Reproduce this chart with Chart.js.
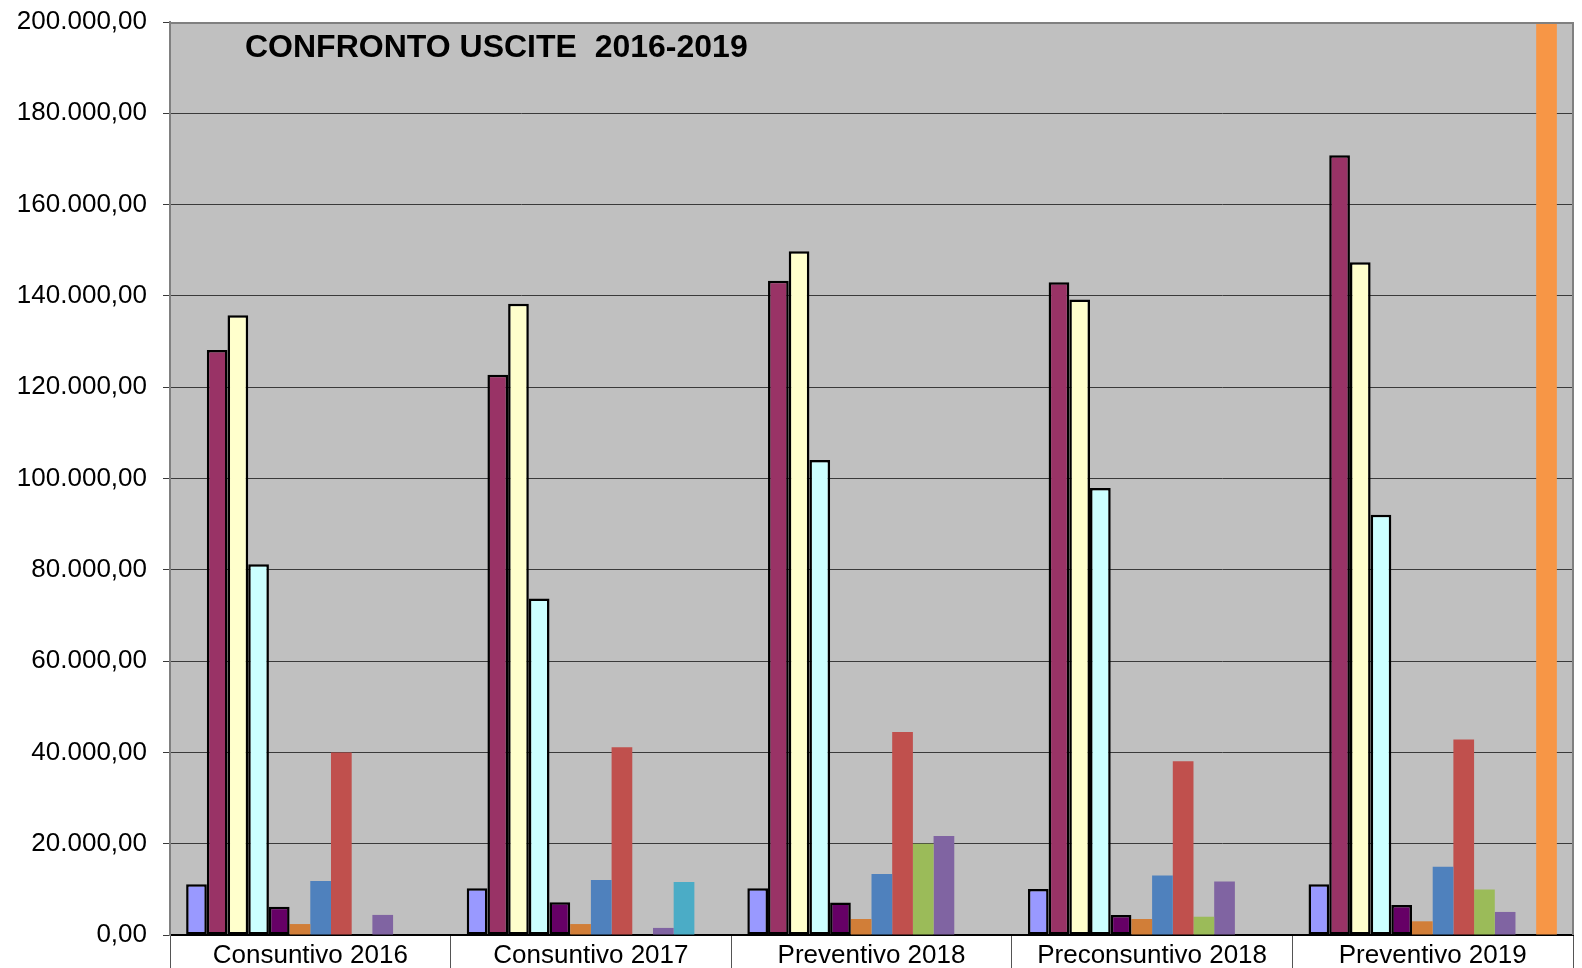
<!DOCTYPE html>
<html>
<head>
<meta charset="utf-8">
<script src="https://cdn.jsdelivr.net/npm/chart.js@4/dist/chart.umd.min.js"></script>
<style>
  html, body { margin: 0; padding: 0; background: #fff; }
  #wrap { width: 1582px; height: 968px; }
</style>
</head>
<body>
<div id="wrap"><canvas id="myChart" width="1582" height="968"></canvas></div>
<script>
// categories
var categories = ['Consuntivo 2016', 'Consuntivo 2017', 'Preventivo 2018', 'Preconsuntivo 2018', 'Preventivo 2019'];

// y axis tick labels (bottom to top)
var yTickLabels = ['0,00', '20.000,00', '40.000,00', '60.000,00', '80.000,00', '100.000,00',
  '120.000,00', '140.000,00', '160.000,00', '180.000,00', '200.000,00'];

// series values, one array per series
var serie1  = [11100, 10230, 10230, 10080, 11100];
var serie2  = [128150, 122700, 143300, 143000, 170800];
var serie3  = [135750, 138300, 149800, 139200, 147350];
var serie4  = [81200, 73700, 104050, 97900, 92050];
var serie5  = [6200, 7150, 7100, 4400, 6550];
var serie6  = [2400, 2400, 3500, 3500, 3000];
var serie7  = [11850, 12050, 13350, 13050, 14950];
var serie8  = [40000, 41150, 44450, 38050, 42800];
var serie9  = [0, 0, 20000, 4000, 9950];
var serie10 = [4400, 1550, 21700, 11700, 5050];
var serie11 = [0, 11600, 0, 0, 0];
var serie12 = [0, 0, 0, 0, 230000];

var allSeries = [serie1, serie2, serie3, serie4, serie5, serie6, serie7, serie8, serie9, serie10, serie11, serie12];
var colors = ['#9999FF', '#993366', '#FFFFCC', '#CCFFFF', '#660066', '#D17E38',
  '#4F81BD', '#C0504D', '#9BBB59', '#8064A2', '#4BACC6', '#F79646'];

var datasets = allSeries.map(function (vals, i) {
  var outlined = i < 5;
  return {
    label: 'Serie ' + (i + 1),
    data: vals,
    backgroundColor: colors[i],
    borderColor: outlined ? '#000' : colors[i],
    borderWidth: outlined ? 2.5 : 0,
    borderSkipped: false
  };
});

// grey plot background + title inside the plot
var plotDecor = {
  id: 'plotDecor',
  beforeDraw: function (chart) {
    var a = chart.chartArea, c = chart.ctx;
    c.save();
    c.fillStyle = '#C0C0C0';
    c.fillRect(a.left, a.top, a.right - a.left, a.bottom - a.top);
    c.restore();
  },
  beforeDatasetsDraw: function (chart) {
    var a = chart.chartArea, c = chart.ctx;
    c.save();
    c.fillStyle = '#000';
    c.font = 'bold 32px "Liberation Sans", Arial, sans-serif';
    c.textBaseline = 'alphabetic';
    c.fillText('CONFRONTO USCITE  2016-2019', 245, a.top + 35);
    c.restore();
  },
  afterDraw: function (chart) {
    var a = chart.chartArea, c = chart.ctx;
    c.save();
    c.strokeStyle = '#808080';
    c.lineWidth = 2;
    c.beginPath();
    c.moveTo(a.left, a.top + 1);
    c.lineTo(a.right, a.top + 1);
    c.lineTo(a.right, a.bottom);
    c.stroke();
    c.restore();
  }
};

var ctx = document.getElementById('myChart');
var chart = new Chart(ctx, {
  type: 'bar',
  data: { labels: categories, datasets: datasets },
  options: {
    responsive: false,
    animation: false,
    layout: { padding: { top: 22, right: 9, left: 0, bottom: 0 } },
    datasets: { bar: { categoryPercentage: 0.885, barPercentage: 1 } },
    plugins: { legend: { display: false }, tooltip: { enabled: false } },
    scales: {
      x: {
        grid: { offset: true, drawOnChartArea: false, tickLength: 33, color: '#555', lineWidth: 1 },
        border: { color: '#000', width: 2 },
        ticks: { color: '#000', padding: -28, font: { family: '"Liberation Sans", Arial, sans-serif', size: 26 } },
        afterFit: function (s) { s.height = 33; s.paddingLeft = 0; s.paddingRight = 0; }
      },
      y: {
        min: 0, max: 200000,
        ticks: {
          stepSize: 20000,
          padding: 16,
          color: '#000',
          font: { family: '"Liberation Sans", Arial, sans-serif', size: 26 },
          callback: function (v, idx) { return yTickLabels[idx]; }
        },
        grid: { color: '#3a3a3a', lineWidth: 1, tickLength: 7 },
        border: { color: '#808080', width: 2 },
        afterFit: function (s) { s.width = 170; s.paddingTop = 0; s.paddingBottom = 0; }
      }
    }
  },
  plugins: [plotDecor]
});
</script>
</body>
</html>
